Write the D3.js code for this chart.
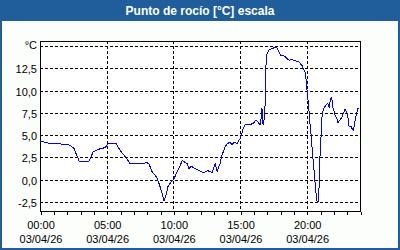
<!DOCTYPE html>
<html>
<head>
<meta charset="utf-8">
<script src="https://cdn.jsdelivr.net/npm/d3@7"></script>
<style>
  html, body { margin: 0; padding: 0; background: #fff; }
  svg { display: block; }
</style>
</head>
<body>
<div id="chart"></div>
<script>
// dew point, 03/04/26, one reading per vertex of the trace
const times = [
  "00:00","00:45","01:39","02:15","02:33","02:56","03:05","03:41","03:59","04:21",
  "04:53","05:06","05:20","05:42","06:00","06:23","06:45","07:30","08:02","08:11",
  "08:24","08:38","08:47","09:00","09:09","09:18","09:27","09:36","09:54","10:03",
  "10:17","10:26","10:39","10:44","11:02","11:11","11:20","11:29","11:51","12:14",
  "12:36","12:54","13:08","13:17","13:30","13:39","13:53","14:02","14:15","14:24",
  "14:33","14:47","15:00","15:09","15:14","15:23","15:45","15:59","16:08","16:17",
  "16:26","16:30","16:35","16:39","16:44","16:48","16:52","16:54","16:57","17:02",
  "17:11","17:24","17:38","17:47","17:56","18:05","18:14","18:27","18:41","18:50",
  "19:08","19:26","19:39","19:53","19:57","20:02","20:06","20:11","20:15","20:20",
  "20:24","20:29","20:33","20:38","20:42","20:47","20:51","20:56","21:00","21:05",
  "21:09","21:14","21:18","21:27","21:32","21:36","21:41","21:45","21:50","21:54",
  "21:59","22:08","22:17","22:21","22:30","22:39","22:48","22:53","23:02","23:06",
  "23:11","23:20","23:24","23:29","23:33","23:38","23:42","23:47","23:51","23:56"
];
const dewPoint = [
  4.33, 4.07, 4.0, 3.88, 3.5, 2.1, 2.05, 2.1, 3.1, 3.4,
  3.6, 4.0, 4.1, 4.1, 3.3, 2.6, 1.83, 1.8, 1.9, 1.75,
  0.9, 0.5, 0.2, -0.75, -1.5, -2.4, -1.7, -0.75, -0.1, 0.08,
  0.9, 1.3, 2.1, 2.1, 1.8, 1.2, 1.55, 1.35, 1.1, 0.8,
  1.0, 0.8, 1.8, 0.9, 1.8, 2.75, 3.7, 4.0, 4.25, 3.9,
  4.2, 4.05, 4.6, 5.2, 5.75, 6.2, 6.2, 6.3, 6.6, 6.6,
  6.3, 6.1, 6.9, 8.0, 6.1, 6.7, 7.6, 10.05, 12.8, 14.2,
  14.55, 14.7, 14.85, 14.75, 14.3, 13.9, 14.0, 13.7, 13.4, 13.5,
  13.35, 13.2, 12.8, 12.1, 11.3, 10.0, 8.9, 7.6, 6.3, 5.0,
  3.7, 2.2, 1.1, -0.4, -1.5, -2.5, -2.5, -0.8, 2.6, 5.0,
  7.05, 7.8, 8.05, 8.35, 8.55, 8.5, 8.1, 8.75, 9.25, 8.9,
  8.0, 7.25, 6.75, 6.4, 6.7, 7.05, 7.6, 7.9, 7.45, 6.9,
  6.0, 5.95, 5.75, 5.55, 5.95, 6.6, 7.1, 7.6, 8.0, 7.9
];
const yTicks = [-2.5, 0, 2.5, 5, 7.5, 10, 12.5, 15];
const day = "03/04/26";
const title = "Punto de rocío [°C] escala";
const unit = "°C";

const W = 400, H = 250;
const plotL = 40, plotT = 41, plotR = 360, plotB = 211;
const blue = "#1f5e9b";
const font = "'Liberation Sans', Arial, sans-serif";

const parse = d3.timeParse("%d/%m/%y %H:%M");
const t0 = parse(day + " 00:00");
const data = times.map((t, i) => ({ t: parse(day + " " + t), v: dewPoint[i] }));

const x = d3.scaleTime()
    .domain([t0, d3.timeHour.offset(t0, 24)])
    .range([plotL, plotR]);
const y = d3.scaleLinear()
    .domain([-3.51, 15.56])
    .range([plotB, plotT]);

const svg = d3.select("#chart").append("svg")
    .attr("width", W)
    .attr("height", H)
    .style("font-family", font);

// frame + title bar
svg.append("rect").attr("width", W).attr("height", H).attr("fill", blue);
svg.append("rect")
    .attr("x", 2).attr("y", 21)
    .attr("width", W - 4).attr("height", H - 23)
    .attr("fill", "#fcfefc");
svg.append("text")
    .attr("x", W / 2).attr("y", 15)
    .attr("text-anchor", "middle")
    .attr("fill", "#fff")
    .attr("font-weight", "bold")
    .attr("font-size", 12)
    .text(title);

svg.append("rect")
    .attr("x", plotL).attr("y", plotT)
    .attr("width", plotR - plotL).attr("height", plotB - plotT)
    .attr("fill", "#fff");

// grid
const majorHours = d3.timeHour.every(5).range(t0, d3.timeHour.offset(t0, 25));
svg.append("g")
    .attr("stroke", "#000")
    .attr("stroke-dasharray", "3,2")
    .attr("shape-rendering", "crispEdges")
  .call(g => g.selectAll("line.h")
      .data(yTicks)
      .join("line")
        .attr("class", "h")
        .attr("x1", plotL).attr("x2", plotR)
        .attr("y1", d => Math.round(y(d)) + 0.5)
        .attr("y2", d => Math.round(y(d)) + 0.5))
  .call(g => g.selectAll("line.v")
      .data(majorHours.filter(d => +d > +t0 && x(d) < plotR))
      .join("line")
        .attr("class", "v")
        .attr("y1", plotT).attr("y2", plotB)
        .attr("x1", d => Math.round(x(d)) + 0.5)
        .attr("x2", d => Math.round(x(d)) + 0.5));

// plot border
svg.append("rect")
    .attr("x", plotL + 0.5).attr("y", plotT + 0.5)
    .attr("width", plotR - plotL).attr("height", plotB - plotT)
    .attr("fill", "none")
    .attr("stroke", "#000")
    .attr("shape-rendering", "crispEdges");

// x axis: hourly ticks, labels every 5 h
const xAxis = d3.axisBottom(x)
    .ticks(d3.timeHour.every(1))
    .tickSize(3)
    .tickFormat("");
svg.append("g")
    .attr("transform", `translate(0.5,${plotB + 0.5})`)
    .attr("shape-rendering", "crispEdges")
    .call(xAxis)
    .call(g => g.select(".domain").remove());

const xl = svg.append("g")
    .attr("font-size", 11)
    .attr("text-anchor", "middle")
    .attr("fill", "#000")
  .selectAll("text")
  .data(majorHours.filter(d => x(d) < plotR))
  .join("text")
    .attr("x", d => x(d) + 1)
    .attr("y", 229);
xl.append("tspan").text(d => d3.timeFormat("%H:%M")(d));
xl.append("tspan").attr("x", d => x(d) + 1).attr("y", 243).text(d => d3.timeFormat("%d/%m/%y")(d));

// y labels
const fmt = d => d3.format(".1f")(d).replace(".", ",").replace("−", "-");
svg.append("g")
    .attr("font-size", 11)
    .attr("text-anchor", "end")
    .attr("fill", "#000")
  .selectAll("text")
  .data(yTicks)
  .join("text")
    .attr("x", 37)
    .attr("y", d => d === 15 ? y(d) + 3 : y(d) + 5)
    .text(d => d === 15 ? unit : fmt(d));

// line
const line = d3.line()
    .x(d => x(d.t))
    .y(d => y(d.v));
svg.append("path")
    .datum(data)
    .attr("fill", "none")
    .attr("stroke", "#0000ff")
    .attr("stroke-width", 1)
    .attr("shape-rendering", "crispEdges")
    .attr("d", line);
</script>
</body>
</html>
